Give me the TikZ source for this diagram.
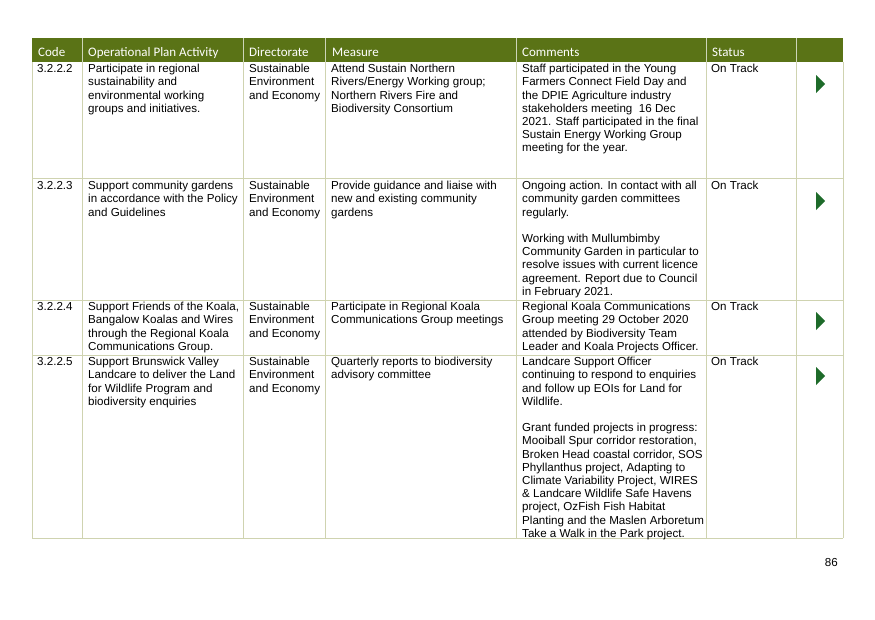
\documentclass[tikz,border=0pt]{standalone}
\usepackage{fontspec}
\setmainfont{Liberation Sans}
\newfontfamily\headfont{Carlito}
\definecolor{headgreen}{HTML}{5A7316}
\definecolor{rulebeige}{HTML}{CFD3B0}
\definecolor{markgreen}{HTML}{1E6B2A}
\begin{document}
\begin{tikzpicture}
  [x=1pt,y=-1pt,
   cell/.style={anchor=north west,inner sep=0pt,align=left,font=\fontsize{11.6}{13.2}\selectfont},
   head/.style={anchor=base west,inner sep=0pt,text=white,font=\headfont\fontsize{13}{14}\selectfont},
   grid/.style={draw=rulebeige,line width=0.8pt},
   trackmark/.style={fill=markgreen}]
  \useasboundingbox (0,0) rectangle (875,619);
  % header band
  \fill [headgreen] (32,38) rectangle (843,62);
  \node (hcode) [head] at (38,56) {Code};
  \node (hact)  [head] at (88,56) {Operational Plan Activity};
  \node (hdir)  [head] at (249,56) {Directorate};
  \node (hmeas) [head] at (332,56) {Measure};
  \node (hcom)  [head] at (522,56) {Comments};
  \node (hstat) [head] at (712,56) {Status};
  % grid
  \foreach \x in {32,82,243,325,516,706,796,843}
    \draw [grid] (\x,62) -- (\x,538);
  \foreach \x in {82,243,325,516,706,796}
    \draw [draw=white!70!headgreen,line width=0.8pt] (\x,38) -- (\x,62);
  \foreach \y in {178,300,355,538}
    \draw [grid] (32,\y) -- (843,\y);
  % row 1
  \node (c1) [cell] at (37,64) {3.2.2.2};
  \node (a1) [cell] at (88,64) {Participate in regional\\sustainability and\\environmental working\\groups and initiatives.};
  \node (d1) [cell] at (249,64) {Sustainable\\Environment\\and Economy};
  \node (m1) [cell] at (331,64) {Attend Sustain Northern\\Rivers/Energy Working group;\\Northern Rivers Fire and\\Biodiversity Consortium};
  \node (k1) [cell] at (522,64) {Staff participated in the Young\\Farmers Connect Field Day and\\the DPIE Agriculture industry\\stakeholders meeting\ \ 16 Dec\\2021. Staff participated in the final\\Sustain Energy Working Group\\meeting for the year.};
  \node (s1) [cell] at (711,64) {On Track};
  % row 2
  \node (c2) [cell] at (37,181) {3.2.2.3};
  \node (a2) [cell] at (88,181) {Support community gardens\\in accordance with the Policy\\and Guidelines};
  \node (d2) [cell] at (249,181) {Sustainable\\Environment\\and Economy};
  \node (m2) [cell] at (331,181) {Provide guidance and liaise with\\new and existing community\\gardens};
  \node (k2) [cell] at (522,181) {Ongoing action. In contact with all\\community garden committees\\regularly.\\[13.2pt]Working with Mullumbimby\\Community Garden in particular to\\resolve issues with current licence\\agreement. Report due to Council\\in February 2021.};
  \node (s2) [cell] at (711,181) {On Track};
  % row 3
  \node (c3) [cell] at (37,302) {3.2.2.4};
  \node (a3) [cell] at (88,302) {Support Friends of the Koala,\\Bangalow Koalas and Wires\\through the Regional Koala\\Communications Group.};
  \node (d3) [cell] at (249,302) {Sustainable\\Environment\\and Economy};
  \node (m3) [cell] at (331,302) {Participate in Regional Koala\\Communications Group meetings};
  \node (k3) [cell] at (522,302) {Regional Koala Communications\\Group meeting 29 October 2020\\attended by Biodiversity Team\\Leader and Koala Projects Officer.};
  \node (s3) [cell] at (711,302) {On Track};
  % row 4
  \node (c4) [cell] at (37,357) {3.2.2.5};
  \node (a4) [cell] at (88,357) {Support Brunswick Valley\\Landcare to deliver the Land\\for Wildlife Program and\\biodiversity enquiries};
  \node (d4) [cell] at (249,357) {Sustainable\\Environment\\and Economy};
  \node (m4) [cell] at (331,357) {Quarterly reports to biodiversity\\advisory committee};
  \node (k4) [cell] at (522,357) {Landcare Support Officer\\continuing to respond to enquiries\\and follow up EOIs for Land for\\Wildlife.\\[13.2pt]Grant funded projects in progress:\\Mooiball Spur corridor restoration,\\Broken Head coastal corridor, SOS\\Phyllanthus project, Adapting to\\Climate Variability Project, WIRES\\\& Landcare Wildlife Safe Havens\\project, OzFish Fish Habitat\\Planting and the Maslen Arboretum\\Take a Walk in the Park project.};
  \node (s4) [cell] at (711,357) {On Track};
  % status marks
  \foreach \y in {84,201,321,376}
    \fill [trackmark] (816,\y-9) -- (825,\y) -- (816,\y+9) -- cycle;
  \node (page) [cell,anchor=east] at (838,562) {86};
\end{tikzpicture}
\end{document}
